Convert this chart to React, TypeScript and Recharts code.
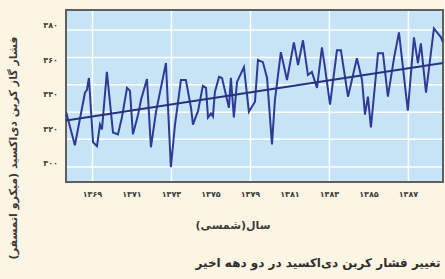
import React from "react";
import {
  LineChart,
  Line,
  XAxis,
  YAxis,
  CartesianGrid,
  ReferenceLine,
  ReferenceArea,
} from "recharts";

// time in (solar) years
const YEARS = [
  1367.66, 1368.11, 1368.62, 1368.72, 1368.82, 1369.03, 1369.23, 1369.38, 1369.48, 1369.73,
  1370.04, 1370.29, 1370.49, 1370.75, 1370.9, 1371.05, 1371.3, 1371.46, 1371.76, 1371.96,
  1372.22, 1372.72, 1372.97, 1373.18, 1373.48, 1373.73, 1373.99, 1374.09, 1374.24, 1374.34,
  1374.59, 1374.75, 1374.85, 1375.0, 1375.1, 1375.2, 1375.41, 1375.56, 1375.91, 1376.01,
  1376.16, 1376.32, 1376.67, 1376.92, 1377.23, 1377.38, 1377.63, 1377.84, 1378.09, 1378.24,
  1378.54, 1378.85, 1379.2, 1379.41, 1379.66, 1379.91, 1380.11, 1380.37, 1380.62, 1380.77,
  1381.03, 1381.38, 1381.58, 1381.94, 1382.39, 1382.65, 1382.8, 1382.95, 1383.1, 1383.46,
  1383.71, 1383.96, 1384.27, 1384.52, 1384.97, 1385.28, 1385.48, 1385.63, 1385.89, 1386.29,
  1386.65, 1386.75,
];

// CO2 pressure (micro-atm)
const CO2 = [
  329.9, 310.4, 340.9, 342.6, 349.5, 312.1, 309.8, 322.4, 319.6, 353.0,
  317.8, 316.7, 326.5, 343.7, 342.0, 316.7, 327.6, 336.8, 348.9, 309.2,
  329.9, 358.1, 297.7, 322.4, 348.3, 348.3, 332.2, 322.4, 327.1, 329.9,
  344.9, 343.7, 326.5, 328.8, 327.1, 341.4, 350.1, 349.5, 332.2, 349.5,
  326.5, 347.2, 355.8, 329.9, 335.7, 359.9, 358.7, 349.5, 310.9, 336.8,
  364.5, 348.3, 370.2, 357.0, 371.4, 351.2, 353.0, 343.7, 367.3, 355.8,
  334.0, 365.6, 365.6, 338.6, 361.0, 348.3, 328.2, 338.6, 320.7, 363.9,
  363.9, 338.6, 361.0, 376.0, 330.5, 373.1, 358.1, 369.6, 340.9, 378.3,
  373.1, 370.2,
];

const TREND = [324.7, 358.2];

const X_TICKS = [1369, 1371, 1373, 1375, 1377, 1379, 1381, 1383, 1385];
const X_TICK_LABELS = ["۱۳۶۹", "۱۳۷۱", "۱۳۷۳", "۱۳۷۵", "۱۳۷۹", "۱۳۸۱", "۱۳۸۳", "۱۳۸۵", "۱۳۸۷"];
const Y_TICKS = [300, 320, 340, 360, 380];
const Y_TICK_LABELS = ["۳۰۰", "۳۲۰", "۳۴۰", "۳۶۰", "۳۸۰"];
// white grid lines don't sit on the labelled ticks in the original
const GRID_Y = [297.7, 313.8, 329.6, 345.5, 361.4, 377.3];

const X_DOMAIN = [1367.66, 1386.75];
const Y_DOMAIN = [289, 389];

const data = YEARS.map((t, i) => ({ t, co2: CO2[i] }));

const FONT = "'DejaVu Sans', sans-serif";

// map grid values to pixel rows using the plot box
const gridRows = ({ yAxis, offset }: any) => {
  if (yAxis && typeof yAxis.scale === "function") {
    return GRID_Y.map((v) => yAxis.scale(v));
  }
  const [lo, hi] = Y_DOMAIN;
  return GRID_Y.map((v) => offset.top + ((hi - v) / (hi - lo)) * offset.height);
};

export default function App() {
  return (
    <div
      style={{
        position: "absolute",
        left: 0,
        top: 0,
        width: 445,
        height: 279,
        background: "#FCF5E4",
        fontFamily: FONT,
        overflow: "hidden",
      }}
    >
      <LineChart
        width={445}
        height={205}
        data={data}
        margin={{ top: 10, right: 2, left: 16, bottom: 3 }}
      >
        <CartesianGrid
          stroke="#ffffff"
          strokeWidth={1.5}
          fill="#C7E4F6"
          fillOpacity={1}
          horizontalCoordinatesGenerator={gridRows}
        />
        <XAxis
          dataKey="t"
          type="number"
          domain={X_DOMAIN}
          allowDataOverflow
          ticks={X_TICKS}
          tickFormatter={(v) => X_TICK_LABELS[X_TICKS.indexOf(v)]}
          axisLine={false}
          tickLine={false}
          tickSize={0}
          tickMargin={9}
          height={20}
          tick={{ fontSize: 8, fill: "#3d3d3d", fontFamily: FONT, fontWeight: "bold" }}
        />
        <YAxis
          type="number"
          domain={Y_DOMAIN}
          allowDataOverflow
          ticks={Y_TICKS}
          tickFormatter={(v) => Y_TICK_LABELS[Y_TICKS.indexOf(v)]}
          axisLine={false}
          tickLine={false}
          tickSize={0}
          tickMargin={8}
          width={50}
          tick={{ fontSize: 8, fill: "#3d3d3d", fontFamily: FONT, fontWeight: "bold" }}
        />
        <ReferenceArea
          x1={X_DOMAIN[0]}
          x2={X_DOMAIN[1]}
          y1={Y_DOMAIN[0]}
          y2={Y_DOMAIN[1]}
          fill="none"
          stroke="#5f5f5f"
          strokeWidth={2}
        />
        <Line
          dataKey="co2"
          stroke="#2E3A96"
          strokeWidth={2}
          dot={false}
          isAnimationActive={false}
        />
        <ReferenceLine
          segment={[
            { x: X_DOMAIN[0], y: TREND[0] },
            { x: X_DOMAIN[1], y: TREND[1] },
          ]}
          stroke="#28327F"
          strokeWidth={2}
        />
      </LineChart>
      <div
        style={{
          position: "absolute",
          left: 14 - 125,
          top: 148 - 8,
          width: 250,
          height: 16,
          lineHeight: "16px",
          transform: "rotate(-90deg)",
          textAlign: "center",
          direction: "rtl",
          fontSize: 11,
          fontWeight: "bold",
          color: "#3a3a3a",
          whiteSpace: "nowrap",
        }}
      >
        فشار گاز کربن دی‌اکسید (میکرو اتمسفر)
      </div>
      <div
        style={{
          position: "absolute",
          left: 183,
          top: 219,
          width: 100,
          textAlign: "center",
          direction: "rtl",
          fontSize: 11,
          fontWeight: "bold",
          color: "#3a3a3a",
        }}
      >
        سال(شمسی)
      </div>
      <div
        style={{
          position: "absolute",
          left: 183,
          top: 256,
          width: 270,
          textAlign: "center",
          direction: "rtl",
          fontSize: 12,
          fontWeight: "bold",
          color: "#2f2f2f",
          whiteSpace: "nowrap",
        }}
      >
        تغییر فشار کربن دی‌اکسید در دو دهه اخیر
      </div>
    </div>
  );
}
